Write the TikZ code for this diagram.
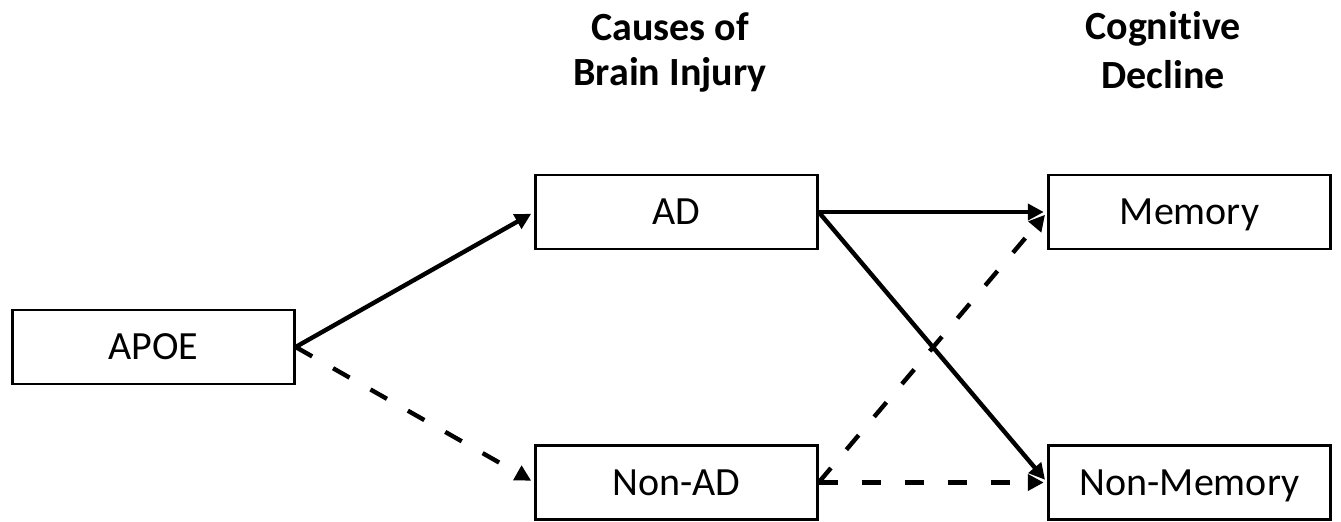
\documentclass[tikz,border=0pt]{standalone}
\usepackage{fontspec}
\setmainfont{Carlito}[RawFeature={-liga;-clig;-calt;-dlig}]
\usetikzlibrary{arrows.meta}

\begin{document}
\begin{tikzpicture}[every node/.style={font=\fontsize{20}{22.5}\selectfont}, x=0.5pt, y=-0.5pt,
	box/.style={draw, line width=1.15pt, minimum width=141pt, minimum height=37pt, inner sep=0pt, text height=14pt, text depth=1.1pt},
	head/.style={align=center, anchor=base, font=\fontsize{20}{22.5}\selectfont\bfseries},
	link/.style={line width=2.2pt, -{Triangle[length=8pt,width=8pt]}, shorten >=1.8pt},
	maybe/.style={link, dash pattern=on 9.5pt off 12pt}]
	\useasboundingbox (0,0) rectangle (1341,521);
	\node[head] (causes) at (670,85) {Causes of\\ Brain Injury};
	\node[head, font=\fontsize{20}{24.5}\selectfont\bfseries] (cognitive) at (1163,88) {Cognitive\\ Decline};
	\node[box] (apoe) at (153.5,347) {APOE};
	\node[box] (ad) at (676.5,212) {AD};
	\node[box] (nonad) at (676.5,482.5) {Non-AD};
	\node[box] (memory) at (1189.5,212) {Memory};
	\node[box] (nonmemory) at (1189.5,482.5) {Non-Memory};
	\draw[link] (apoe.east) -- (ad.west);
	\draw[maybe] (apoe.east) -- (nonad.west);
	\draw[link] (ad.east) -- (memory.west);
	\draw[link] (ad.east) -- (nonmemory.west);
	\draw[maybe] (nonad.east) -- (memory.west);
	\draw[maybe] (nonad.east) -- (nonmemory.west);
\end{tikzpicture}
\end{document}
